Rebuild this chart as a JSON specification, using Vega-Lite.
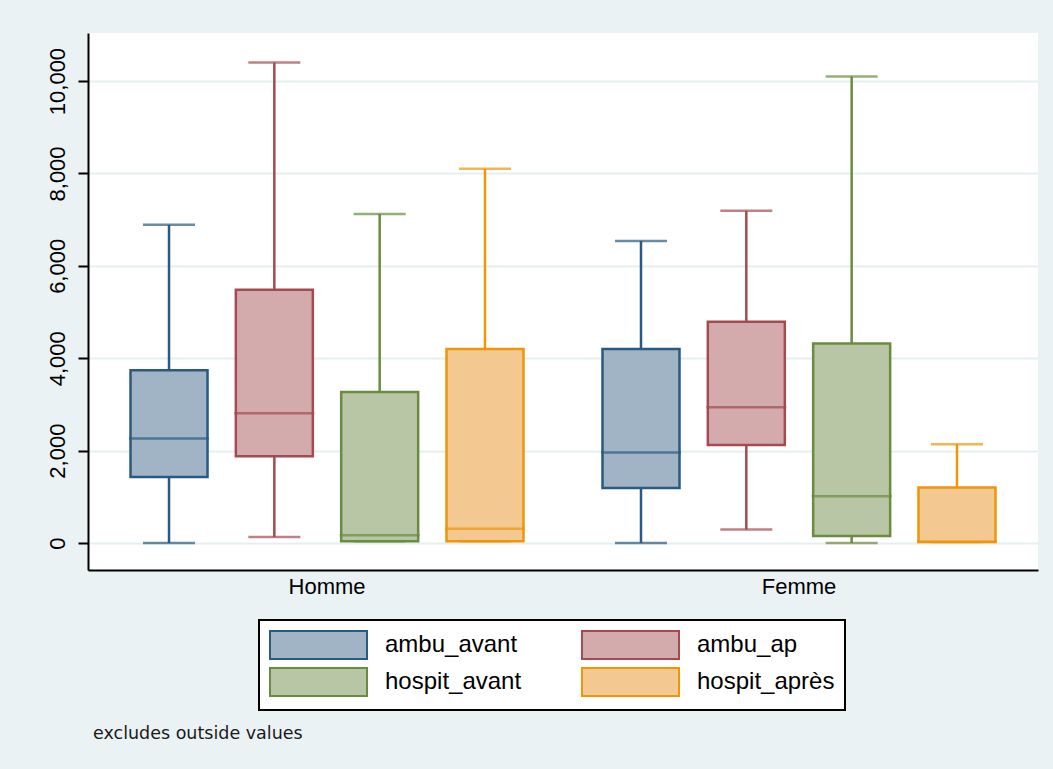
{
  "$schema": "https://vega.github.io/schema/vega-lite/v6.json",
  "autosize": {"type": "none"},
  "width": 950,
  "height": 537,
  "padding": {"left": 88, "top": 33, "right": 15, "bottom": 199},
  "background": "#eaf2f3",
  "title": {
    "text": "excludes outside values",
    "orient": "bottom",
    "anchor": "start",
    "frame": "group",
    "font": "DejaVu Sans",
    "fontSize": 17.5,
    "fontWeight": "normal",
    "color": "#1a1a1a",
    "dx": 5,
    "offset": 14
  },
  "data": {
    "values": [
      {"sex": "Homme", "series": "ambu_avant", "lo": 0, "q1": 1430, "med": 2260, "q3": 3740, "hi": 6890},
      {"sex": "Homme", "series": "ambu_ap", "lo": 130, "q1": 1880, "med": 2810, "q3": 5480, "hi": 10400},
      {"sex": "Homme", "series": "hospit_avant", "lo": 40, "q1": 40, "med": 170, "q3": 3270, "hi": 7120},
      {"sex": "Homme", "series": "hospit_après", "lo": 40, "q1": 40, "med": 310, "q3": 4200, "hi": 8100},
      {"sex": "Femme", "series": "ambu_avant", "lo": 0, "q1": 1190, "med": 1960, "q3": 4200, "hi": 6540},
      {"sex": "Femme", "series": "ambu_ap", "lo": 290, "q1": 2120, "med": 2940, "q3": 4790, "hi": 7190},
      {"sex": "Femme", "series": "hospit_avant", "lo": 0, "q1": 150, "med": 1010, "q3": 4320, "hi": 10100},
      {"sex": "Femme", "series": "hospit_après", "lo": 20, "q1": 20, "med": 30, "q3": 1200, "hi": 2140}
    ]
  },
  "encoding": {
    "x": {
      "field": "sex",
      "type": "nominal",
      "sort": ["Homme", "Femme"],
      "title": null,
      "scale": {"paddingInner": 0, "paddingOuter": 0.0064},
      "axis": {
        "ticks": false,
        "labelAngle": 0,
        "labelFont": "Liberation Sans",
        "labelFontSize": 22,
        "labelColor": "#000000",
        "labelPadding": 6,
        "domainColor": "#000000",
        "domainWidth": 2,
        "grid": false
      }
    },
    "xOffset": {
      "field": "series",
      "type": "nominal",
      "sort": ["ambu_avant", "ambu_ap", "hospit_avant", "hospit_après"],
      "scale": {"paddingInner": 0.269, "paddingOuter": 0.375}
    }
  },
  "layer": [
    {
      "mark": {"type": "rule", "strokeWidth": 2.5},
      "encoding": {
        "y": {
          "field": "lo",
          "type": "quantitative",
          "title": null,
          "scale": {"domain": [-584, 11040], "nice": false, "zero": false},
          "axis": {
            "values": [0, 2000, 4000, 6000, 8000, 10000],
            "format": ",d",
            "labelAngle": -90,
            "labelAlign": "center",
            "labelBaseline": "alphabetic",
            "labelFont": "Liberation Sans",
            "labelFontSize": 22,
            "labelColor": "#000000",
            "labelPadding": 14,
            "tickSize": 10,
            "tickWidth": 2,
            "tickColor": "#000000",
            "domainColor": "#000000",
            "domainWidth": 2,
            "grid": true,
            "gridColor": "#e6eff0",
            "gridWidth": 2
          }
        },
        "y2": {"field": "hi"},
        "stroke": {
          "field": "series",
          "type": "nominal",
          "sort": ["ambu_avant", "ambu_ap", "hospit_avant", "hospit_après"],
          "scale": {"range": ["#285a82", "#a34b50", "#698c3e", "#ee9508"]},
          "legend": null
        }
      }
    },
    {
      "mark": {"type": "tick", "size": 52, "thickness": 2.5, "fill": {"expr": "scale('stroke', datum.series)"}},
      "encoding": {
        "y": {"field": "lo", "type": "quantitative", "title": null}
      }
    },
    {
      "mark": {"type": "tick", "size": 52, "thickness": 2.5, "fill": {"expr": "scale('stroke', datum.series)"}},
      "encoding": {
        "y": {"field": "hi", "type": "quantitative", "title": null}
      }
    },
    {
      "mark": {
        "type": "bar",
        "strokeWidth": 2.5,
        "stroke": {"expr": "scale('stroke', datum.series || datum.value)"}
      },
      "encoding": {
        "y": {"field": "q1", "type": "quantitative", "title": null},
        "y2": {"field": "q3"},
        "color": {
          "field": "series",
          "type": "nominal",
          "sort": ["ambu_avant", "ambu_ap", "hospit_avant", "hospit_après"],
          "scale": {"range": ["#a1b4c6", "#d4abad", "#b8c6a5", "#f3c991"]},
          "legend": {"title": null}
        }
      }
    },
    {
      "mark": {"type": "tick", "size": 80, "thickness": 2.5, "fill": {"expr": "scale('stroke', datum.series)"}},
      "encoding": {
        "y": {"field": "med", "type": "quantitative", "title": null}
      }
    }
  ],
  "config": {
    "view": {"fill": "#ffffff", "stroke": null},
    "legend": {
      "orient": "none",
      "legendX": 171,
      "legendY": 587,
      "columns": 2,
      "direction": "horizontal",
      "symbolType": "M-1,-1H5.929V1H-1Z",
      "symbolSize": 784,
      "symbolStrokeWidth": 2,
      "labelFont": "Liberation Sans",
      "labelFontSize": 24,
      "labelColor": "#000000",
      "labelOffset": 86,
      "labelLimit": 320,
      "columnPadding": 56,
      "rowPadding": 1,
      "padding": 10,
      "strokeColor": "#000000",
      "strokeWidth": 2,
      "fillColor": "#ffffff"
    }
  }
}
